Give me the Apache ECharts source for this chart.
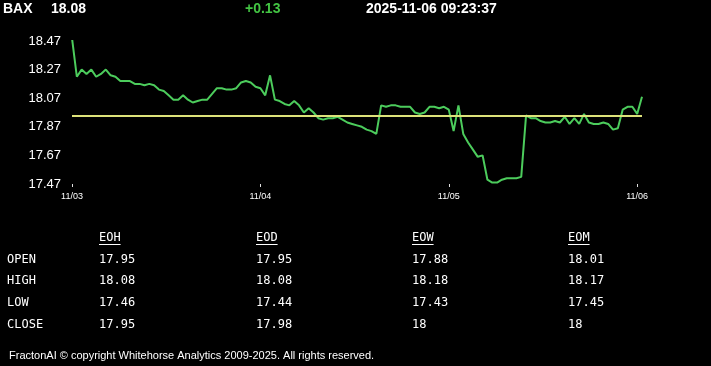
<!DOCTYPE html>
<html>
<head>
<meta charset="utf-8">
<style>
html,body{margin:0;padding:0;background:#000;}
#chart{width:711px;height:366px;}
</style>
<script src="https://cdn.jsdelivr.net/npm/echarts@6/dist/echarts.min.js"></script>
</head>
<body>
<div id="chart"></div>
<script>
// ---- header ----
var ticker = 'BAX';
var lastPrice = '18.08';
var change = '+0.13';
var timestamp = '2025-11-06 09:23:37';
var openLevel = 17.95;

// ---- x-axis days (10-minute bars) ----
var dayLabels = ['11/03', '11/04', '11/05', '11/06'];
var day1 = [18.49,18.22,18.27,18.24,18.27,18.22,18.24,18.27,18.23,18.22,
            18.19,18.19,18.19,18.17,18.17,18.16,18.17,18.16,18.13,18.12,
            18.09,18.06,18.06,18.09,18.06,18.04,18.05,18.06,18.06,18.10,
            18.14,18.14,18.13,18.13,18.14,18.18,18.19,18.18,18.15];
var day2 = [18.14,18.09,18.23,18.06,18.05,18.03,18.02,18.05,18.02,17.97,
            18.00,17.97,17.93,17.92,17.93,17.93,17.94,17.92,17.90,17.89,
            17.88,17.87,17.85,17.84,17.82,18.02,18.01,18.02,18.02,18.01,
            18.01,18.01,17.97,17.96,17.97,18.01,18.01,18.00,18.01];
var day3 = [17.99,17.84,18.02,17.82,17.76,17.71,17.66,17.67,17.50,17.48,
            17.48,17.50,17.51,17.51,17.51,17.52,17.95,17.93,17.93,17.91,
            17.90,17.90,17.91,17.90,17.94,17.89,17.93,17.89,17.96,17.90,
            17.89,17.89,17.90,17.89,17.85,17.86,17.99,18.01,18.01];
var day4 = [17.96,18.08];

// ---- y-axis ticks ----
var yMin = 17.47, yMax = 18.47, yStep = 0.2;

// ---- table ----
var rowLabels = ['OPEN', 'HIGH', 'LOW', 'CLOSE'];
var colHeaders = ['EOH', 'EOD', 'EOW', 'EOM'];
var eoh = [17.95, 18.08, 17.46, 17.95];
var eod = [17.95, 18.08, 17.44, 17.98];
var eow = [17.88, 18.18, 17.43, 18];
var eom = [18.01, 18.17, 17.45, 18];

var footer = 'FractonAI \u00a9 copyright Whitehorse Analytics 2009-2025. All rights reserved.';

// ---- build ----
var days = [day1, day2, day3, day4];
var categories = [];
var values = [];
var dayStart = {};
days.forEach(function (d, di) {
  d.forEach(function (v, j) {
    var mins = 9 * 60 + 30 + j * 10;
    var hh = ('0' + Math.floor(mins / 60)).slice(-2), mm = ('0' + (mins % 60)).slice(-2);
    if (j === 0) dayStart[categories.length] = true;
    categories.push(dayLabels[di] + ' ' + hh + ':' + mm);
    values.push(v);
  });
});

var tableCols = [eoh, eod, eow, eom];
var mono = '12px "DejaVu Sans Mono", "Liberation Mono", monospace';
var graphics = [];
function txt(x, y, s, font, fill) {
  graphics.push({type: 'text', x: x, y: y, style: {text: s, font: font, fill: fill, align: 'left', verticalAlign: 'middle'}});
}
var hFont = 'bold 14px "Liberation Sans", Arial, sans-serif';
txt(3, 9, ticker, hFont, '#fff');
txt(51, 9, lastPrice, hFont, '#fff');
txt(245, 9, change, hFont, '#43c443');
txt(366, 9, timestamp, hFont, '#fff');

var colX = [99, 256, 412, 568];
var rowY = [259.5, 281, 303, 324.5];
colHeaders.forEach(function (h, c) {
  txt(colX[c], 238, h, mono, '#fff');
  graphics.push({type: 'line', shape: {x1: colX[c], y1: 244.5, x2: colX[c] + h.length * 7.2, y2: 244.5}, style: {stroke: '#fff', lineWidth: 1}});
});
rowLabels.forEach(function (r, i) {
  txt(7, rowY[i], r, mono, '#fff');
  tableCols.forEach(function (col, c) {
    txt(colX[c], rowY[i], String(col[i]), mono, '#fff');
  });
});
txt(9, 355.5, footer, '11px "Liberation Sans", Arial, sans-serif', '#fff');

var chart = echarts.init(document.getElementById('chart'));
chart.setOption({
  backgroundColor: '#000',
  animation: false,
  grid: {left: 72, right: 69, top: 41, bottom: 182},
  xAxis: {
    type: 'category',
    data: categories,
    boundaryGap: false,
    axisLine: {show: false},
    axisTick: {show: true, length: 3, lineStyle: {color: '#ddd'}, interval: function (i) { return !!dayStart[i]; }},
    axisLabel: {
      color: '#fff', fontSize: 9, margin: 8, fontFamily: '"Liberation Sans", Arial, sans-serif',
      interval: function (i) { return !!dayStart[i]; },
      formatter: function (v) { return v.split(' ')[0]; }
    },
    splitLine: {show: false}
  },
  yAxis: {
    type: 'value',
    min: yMin, max: yMax, interval: yStep,
    axisLine: {show: false}, axisTick: {show: false}, splitLine: {show: false},
    axisLabel: {color: '#fff', fontSize: 13, margin: 11, fontFamily: '"Liberation Sans", Arial, sans-serif',
      formatter: function (v) { return v.toFixed(2); }}
  },
  series: [{
    type: 'line',
    data: values,
    showSymbol: false,
    lineStyle: {color: '#4ccc5c', width: 2},
    markLine: {
      silent: true, symbol: 'none', label: {show: false},
      lineStyle: {color: '#dde27a', width: 2, type: 'solid'},
      data: [{yAxis: openLevel}]
    }
  }],
  graphic: graphics
});
</script>
</body>
</html>
